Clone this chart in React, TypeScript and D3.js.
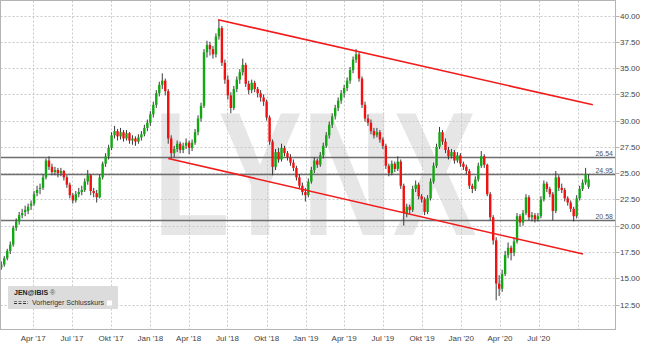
import React from 'react';
import * as d3 from 'd3';

const W = 645;
const H = 348;

// weekly candles, first week starting 2017-01-16
const firstWeek = '2017-01-16';
const opens = [
  16.0,16.3,16.9,17.6,18.2,19.8,20.4,21.0,21.3,21.4,
  21.9,22.1,23.1,23.5,23.6,24.6,26.2,25.6,25.1,25.3,
  25.0,25.2,24.6,23.9,22.9,22.4,23.0,23.2,23.4,24.2,
  24.8,23.3,23.1,22.7,24.6,25.9,26.6,27.4,28.6,29.0,
  28.5,28.9,28.3,28.8,28.1,28.3,28.0,28.4,28.7,29.3,
  29.8,30.6,31.5,32.6,33.4,33.8,32.8,28.3,26.9,27.3,
  27.8,27.2,27.6,27.9,27.4,27.9,28.9,30.2,31.4,36.5,
  37.2,36.8,36.3,38.0,38.8,35.5,33.9,32.4,31.2,33.0,
  33.9,34.6,35.3,33.5,32.9,33.6,33.0,32.6,32.2,31.8,
  30.3,28.0,25.6,27.0,26.3,27.4,26.9,26.5,26.0,25.5,
  24.6,23.8,23.2,22.9,24.2,25.3,26.2,25.8,26.7,27.6,
  28.6,29.6,30.4,31.2,31.9,32.6,33.1,33.8,34.8,35.8,
  36.3,34.0,31.5,30.2,29.8,29.0,28.6,28.9,28.2,27.6,
  25.7,25.0,25.9,25.4,26.1,23.8,21.2,21.8,21.5,23.5,
  23.9,22.8,22.5,21.3,22.6,24.2,25.7,27.5,28.9,28.0,
  27.2,26.6,27.0,26.2,26.7,25.9,25.6,25.2,23.8,23.5,
  24.4,25.7,26.6,25.8,23.0,20.8,18.6,14.5,14.0,15.4,
  17.2,17.9,17.4,18.5,20.9,20.3,21.2,22.7,20.8,21.0,
  20.6,20.9,22.5,24.0,23.5,23.0,21.4,24.6,23.6,23.4,
  22.6,22.2,21.6,20.9,22.6,23.5,24.1,23.7,
];
const highs = [
  16.6,17.1,17.8,18.5,20.0,20.7,21.3,21.6,21.9,22.1,
  22.4,23.3,23.8,24.0,24.9,26.4,26.6,25.9,25.6,25.5,
  25.5,25.3,24.8,24.1,23.1,23.3,23.6,23.8,24.5,25.3,
  24.9,23.6,23.4,24.9,26.1,26.9,27.7,28.9,29.5,29.2,
  29.3,29.1,29.1,28.9,28.6,28.5,28.7,29.0,29.6,30.1,
  30.9,31.8,32.9,33.7,34.5,34.0,33.0,28.6,27.6,28.1,
  28.0,27.9,28.3,28.1,28.2,29.2,30.5,31.7,36.8,37.6,
  37.5,37.1,38.3,39.6,39.0,35.8,34.3,32.7,33.3,34.2,
  34.9,35.9,35.5,33.8,33.9,33.8,33.2,32.9,32.5,32.0,
  30.5,28.2,27.3,27.4,27.8,27.6,27.1,26.8,26.3,25.7,
  24.9,24.1,23.6,24.5,25.6,26.5,26.4,27.0,27.9,28.9,
  29.9,30.7,31.5,32.2,32.9,33.4,34.1,35.1,36.1,36.8,
  36.5,34.2,31.8,30.6,30.1,29.3,29.3,29.1,28.4,27.8,
  25.9,26.2,26.1,26.6,26.3,24.0,22.1,22.0,23.8,24.3,
  24.1,23.0,22.7,22.9,24.5,26.0,27.8,29.4,29.1,28.3,
  27.5,27.3,27.2,27.0,26.9,26.1,25.8,25.4,24.0,24.7,
  26.0,27.1,26.8,25.9,23.2,21.0,18.9,15.3,15.8,17.6,
  18.4,18.1,18.9,21.2,21.1,21.5,23.0,22.9,21.3,21.2,
  21.2,22.8,24.3,24.2,23.7,23.2,25.2,24.8,24.0,23.6,
  22.8,22.4,21.8,22.9,23.8,24.4,25.5,24.9,
];
const lows = [
  15.8,16.1,16.7,17.3,18.0,19.5,20.1,20.7,20.9,21.1,
  21.5,21.9,22.8,23.0,23.4,24.4,25.3,24.8,24.8,24.6,
  24.7,24.3,23.6,22.6,22.1,22.2,22.7,22.9,23.2,23.9,
  22.9,22.7,22.2,22.6,24.4,25.6,26.3,27.2,28.3,28.1,
  28.2,28.0,28.1,27.8,27.7,27.6,27.8,28.1,28.5,29.0,
  29.5,30.3,31.2,32.3,33.0,32.4,27.8,26.4,26.5,27.0,
  26.9,26.9,27.3,26.8,27.1,27.7,28.6,29.9,31.2,36.0,
  36.2,35.9,36.0,37.7,35.2,33.5,32.0,30.7,31.0,32.7,
  33.5,34.3,33.2,32.5,32.6,32.7,32.2,31.8,31.4,30.0,
  27.7,24.8,25.3,26.0,26.1,26.6,26.2,25.7,25.2,24.3,
  23.5,22.9,22.3,22.7,24.0,25.0,25.5,25.6,26.4,27.4,
  28.3,29.3,30.1,30.9,31.6,32.2,32.8,33.5,34.5,35.5,
  33.7,31.2,29.9,29.5,28.7,28.3,28.4,27.9,27.3,25.4,
  24.7,24.8,25.1,25.2,23.5,20.0,20.8,21.1,21.3,23.2,
  22.5,22.2,21.0,21.1,22.4,24.0,25.5,27.3,27.7,26.9,
  26.3,26.4,25.9,26.0,25.6,25.3,24.9,23.5,23.1,23.3,
  24.2,25.5,25.5,22.8,20.5,18.2,12.9,13.3,13.7,15.2,
  16.9,16.7,17.1,18.3,19.9,20.0,21.0,20.5,20.4,20.3,
  20.4,20.7,22.3,23.2,22.7,20.5,21.2,23.3,23.1,22.3,
  21.9,21.3,20.4,20.7,22.4,23.3,23.9,23.5,
];
const closes = [
  16.3,16.9,17.6,18.2,19.8,20.4,21.0,21.2,21.5,21.8,
  22.1,23.0,23.4,23.6,24.6,26.2,25.6,25.1,25.3,25.0,
  25.2,24.6,23.9,22.9,22.4,23.0,23.2,23.4,24.2,24.8,
  23.3,23.1,22.7,24.6,25.9,26.6,27.4,28.6,29.0,28.5,
  28.9,28.3,28.8,28.1,28.3,28.0,28.4,28.7,29.3,29.8,
  30.6,31.5,32.6,33.4,33.8,32.8,28.3,26.9,27.3,27.8,
  27.2,27.6,27.9,27.4,27.9,28.9,30.2,31.4,36.5,37.2,
  36.8,36.3,38.0,38.8,35.5,33.9,32.4,31.2,33.0,33.9,
  34.6,35.3,33.5,32.9,33.6,33.0,32.6,32.2,31.8,30.3,
  28.0,25.6,27.0,26.3,27.4,26.9,26.5,26.0,25.5,24.6,
  23.8,23.2,22.9,24.2,25.3,26.2,25.8,26.7,27.6,28.6,
  29.6,30.4,31.2,31.9,32.6,33.1,33.8,34.8,35.8,36.3,
  34.0,31.5,30.2,29.8,29.0,28.6,28.9,28.2,27.6,25.7,
  25.0,25.9,25.4,26.1,23.8,21.2,21.8,21.5,23.5,23.9,
  22.8,22.5,21.3,22.6,24.2,25.7,27.5,28.9,28.0,27.2,
  26.6,27.0,26.2,26.7,25.9,25.6,25.2,23.8,23.5,24.4,
  25.7,26.6,25.8,23.0,20.8,18.6,14.5,14.0,15.4,17.2,
  17.9,17.4,18.5,20.9,20.3,21.2,22.7,20.8,21.0,20.6,
  20.9,22.5,24.0,23.5,23.0,21.4,24.6,23.6,23.4,22.6,
  22.2,21.6,20.9,22.6,23.5,24.1,24.9,24.4,
];

const yTicks = [12.5, 15, 17.5, 20, 22.5, 25, 27.5, 30, 32.5, 35, 37.5, 40];
const quarterDates = [
  '2017-04-01','2017-07-01','2017-10-01','2018-01-01','2018-04-01','2018-07-01',
  '2018-10-01','2019-01-01','2019-04-01','2019-07-01','2019-10-01','2020-01-01',
  '2020-04-01','2020-07-01','2020-10-01',
];
const quarterLabels = [
  "Apr '17","Jul '17","Okt '17","Jan '18","Apr '18","Jul '18",
  "Okt '18","Jan '19","Apr '19","Jul '19","Okt '19","Jan '20",
  "Apr '20","Jul '20","",
];
const levels = [26.54, 24.95, 20.58];
const upperTrendDates = ['2018-06-09', '2020-11-05'];
const upperTrendValues = [39.6, 31.5];
const lowerTrendDates = ['2018-02-12', '2020-10-13'];
const lowerTrendValues = [26.4, 17.3];
const domainDates = ['2017-01-13', '2020-12-27'];

const parse = d3.timeParse('%Y-%m-%d');
const FONT = "'Liberation Sans', Arial, sans-serif";

export default function App() {
  const plotL = 0.5, plotR = 615.5, plotT = 0.5, plotB = 329.5;
  const x = d3.scaleTime()
    .domain(domainDates.map((d) => parse(d) as Date))
    .range([0, 615]);
  const y = d3.scaleLinear().domain([12.5, 40]).range([304.5, 15.5]);
  const start = parse(firstWeek) as Date;
  const candles = closes.map((c, i) => ({
    date: d3.timeWeek.offset(start, i),
    o: opens[i], h: highs[i], l: lows[i], c,
  }));
  const line = d3.line<[Date, number]>().x((d) => x(d[0])).y((d) => y(d[1]));
  const upper: [Date, number][] = upperTrendDates.map((d, i) => [parse(d) as Date, upperTrendValues[i]]);
  const lower: [Date, number][] = lowerTrendDates.map((d, i) => [parse(d) as Date, lowerTrendValues[i]]);

  return (
    <div style={{ position: 'fixed', left: 0, top: 0, width: W, height: H, background: '#fff' }}>
      <svg width={W} height={H} style={{ display: 'block' }} fontFamily={FONT}>
        <rect x={0} y={0} width={W} height={H} fill="#fff" />
        <clipPath id="plot">
          <rect x={plotL} y={plotT} width={plotR - plotL} height={plotB - plotT} />
        </clipPath>
        {/* watermark */}
        <text transform="translate(153,235) scale(0.714,1)" x={0} y={0} fontSize={176}
          fontWeight="bold" fill="#e6e6e6" fontFamily={FONT}>LYNX</text>
        {/* gridlines */}
        <g stroke="#c8c8c8" strokeWidth={1} strokeDasharray="2,2">
          {yTicks.map((t) => (
            <line key={'h' + t} x1={plotL} x2={plotR} y1={Math.round(y(t)) + 0.5} y2={Math.round(y(t)) + 0.5} />
          ))}
          {quarterDates.map((d) => {
            const xx = Math.round(x(parse(d) as Date)) + 0.5;
            return <line key={'v' + d} x1={xx} x2={xx} y1={plotT} y2={plotB} />;
          })}
        </g>
        {/* level lines */}
        <g>
          {levels.map((lv) => {
            const yy = Math.round(y(lv)) + 0.5;
            return (
              <g key={'l' + lv}>
                <line x1={plotL} x2={plotR} y1={yy} y2={yy} stroke="#6e6e6e" strokeWidth={1.3} />
                <text x={613} y={yy - 2} fontSize={7} fill="#555" textAnchor="end">{lv.toFixed(2)}</text>
              </g>
            );
          })}
        </g>
        {/* candles */}
        <g clipPath="url(#plot)">
          {candles.map((d, i) => {
            const cx = x(d.date);
            const up = d.c >= d.o;
            const top = y(Math.max(d.o, d.c));
            const bot = y(Math.min(d.o, d.c));
            return (
              <g key={'c' + i}>
                <line x1={cx} x2={cx} y1={y(d.h)} y2={y(d.l)} stroke="#3a3a3a" strokeWidth={1} />
                <rect x={cx - 1.2} y={top} width={2.4} height={Math.max(1, bot - top)}
                  fill={up ? '#13a813' : '#f21010'} />
              </g>
            );
          })}
        </g>
        {/* trend lines */}
        <path d={line(upper) || ''} stroke="#f21a1a" strokeWidth={1.6} fill="none" />
        <path d={line(lower) || ''} stroke="#f21a1a" strokeWidth={1.6} fill="none" />
        {/* frame */}
        <rect x={plotL} y={plotT} width={plotR - plotL} height={plotB - plotT} fill="none" stroke="#b4b4b4" />
        {/* y axis */}
        {yTicks.map((t) => (
          <g key={'yt' + t}>
            <line x1={plotR} x2={plotR + 4} y1={Math.round(y(t)) + 0.5} y2={Math.round(y(t)) + 0.5} stroke="#b4b4b4" />
            <text x={620} y={y(t) + 3} fontSize={8} fill="#444">{t.toFixed(2)}</text>
          </g>
        ))}
        {/* x axis */}
        {quarterDates.map((d, i) => (
          <text key={'xt' + d} x={x(parse(d) as Date)} y={341} fontSize={8} fill="#444" textAnchor="middle">
            {quarterLabels[i]}
          </text>
        ))}
        {/* legend */}
        <rect x={8} y={286} width={110} height={23} fill="#dcdcdc" rx={1} />
        <text x={14} y={295} fontSize={7} fontWeight="bold" fill="#222">JEN@IBIS <tspan fontWeight="normal" fill="#555">®</tspan></text>
        <line x1={14} x2={28} y1={303.5} y2={303.5} stroke="#333" strokeWidth={1} strokeDasharray="3,1.5" />
        <line x1={14} x2={28} y1={301.5} y2={301.5} stroke="#333" strokeWidth={0.6} strokeDasharray="3,1.5" />
        <text x={32} y={305} fontSize={7} fill="#333">Vorheriger Schlusskurs</text>
        <rect x={107} y={300.5} width={5} height={5} fill="#fff" />
      </svg>
    </div>
  );
}
